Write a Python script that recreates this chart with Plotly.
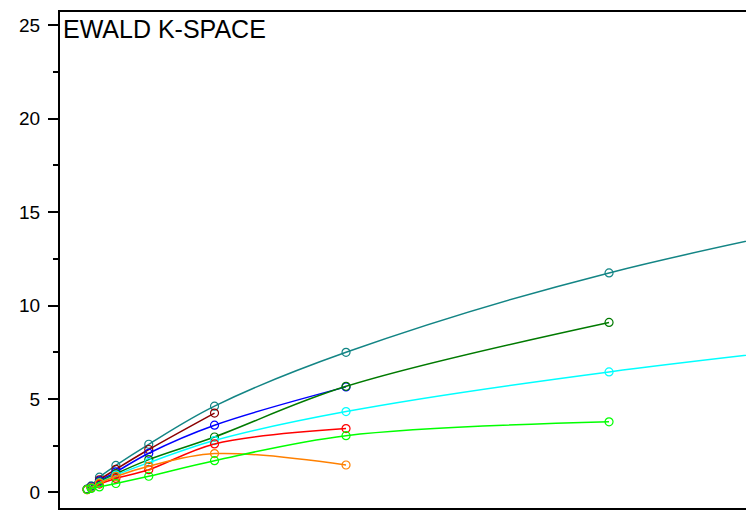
import plotly.graph_objects as go

x_vals = [1, 2, 4, 8, 16, 32, 64, 128, 256]

teal = [0.18, 0.35, 0.82, 1.45, 2.58, 4.62, 7.5, 11.75, 17.6]
darkred = [0.17, 0.32, 0.68, 1.24, 2.3, 4.25]
blue = [0.17, 0.3, 0.62, 1.1, 2.1, 3.6, 5.65]
darkgreen = [0.17, 0.28, 0.56, 1.0, 1.76, 2.97, 5.68, 9.1]
cyan = [0.16, 0.27, 0.52, 0.93, 1.6, 2.78, 4.33, 6.45, 9.6]
red = [0.16, 0.25, 0.45, 0.75, 1.22, 2.6, 3.42]
orange = [0.14, 0.24, 0.5, 0.86, 1.4, 2.08, 1.47]
green = [0.16, 0.22, 0.3, 0.48, 0.87, 1.7, 3.04, 3.78]

series = [
    ("teal", teal, "#138585"),
    ("darkred", darkred, "#8b0000"),
    ("blue", blue, "#0000ff"),
    ("darkgreen", darkgreen, "#007a00"),
    ("cyan", cyan, "#00ffff"),
    ("red", red, "#ff0000"),
    ("orange", orange, "#ff8000"),
    ("green", green, "#00ff00"),
]

fig = go.Figure()
for name, ys, col in series:
    fig.add_trace(go.Scatter(
        x=x_vals[:len(ys)], y=ys, name=name, mode="lines+markers",
        line=dict(color=col, width=1.5, shape="spline", smoothing=1.0),
        marker=dict(symbol="circle-open", size=8, color=col, line=dict(width=1.2, color=col)),
        cliponaxis=True,
    ))

fig.update_layout(
    width=754, height=511,
    margin=dict(l=52, r=12, t=2, b=11),
    plot_bgcolor="white", paper_bgcolor="white",
    showlegend=False,
    font=dict(family="Arial, Liberation Sans, sans-serif", color="black", size=19),
    annotations=[dict(text="EWALD K-SPACE", xref="paper", yref="paper", x=0, y=1,
                      xanchor="left", yanchor="top", xshift=1, yshift=-1, showarrow=False,
                      font=dict(size=25, color="black", family="Arial, Liberation Sans, sans-serif"))],
)
fig.update_xaxes(range=[-5.6, 162.3], showgrid=False, zeroline=False, showticklabels=False,
                 showline=True, linecolor="black", linewidth=2, mirror=True, ticks="")
fig.update_yaxes(range=[-0.83, 25.71], showgrid=False, zeroline=False,
                 tickvals=[0, 5, 10, 15, 20, 25], ticks="outside", ticklen=10, tickwidth=2,
                 tickcolor="black", showline=True, linecolor="black", linewidth=2, mirror=True,
                 minor=dict(tickvals=[2.5, 7.5, 12.5, 17.5, 22.5], ticks="outside", ticklen=5,
                            tickwidth=2, tickcolor="black"),
                 ticklabelstandoff=4,
                 tickfont=dict(size=19))

fig.write_html("out.html")
